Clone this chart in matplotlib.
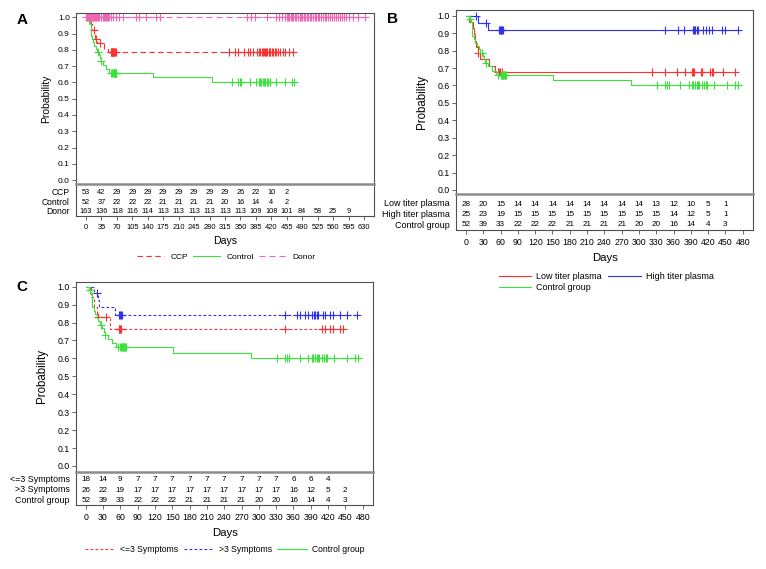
import numpy as np
import matplotlib
matplotlib.use("Agg")
import matplotlib.pyplot as plt

plt.rcParams['font.family'] = ['Liberation Sans', 'DejaVu Sans']

# ---------------- data ----------------
# control group, same patients in all three panels
ctrl_t = [0, 5, 8, 11, 14, 16, 19, 22, 25, 29, 31, 33, 38, 45, 52, 151, 286]
ctrl_s = [1.0, 0.981, 0.962, 0.885, 0.865, 0.846, 0.827, 0.808, 0.788, 0.768,
          0.749, 0.730, 0.709, 0.685, 0.661, 0.631, 0.601]
ctrl_cens = [7, 27, 34, 56, 60, 62, 63, 64, 65, 66, 67, 68, 69, 331, 345, 348, 352,
             372, 386, 392, 394, 397, 400, 403, 405, 410, 413, 416, 418, 431, 452, 467, 472]

# panel A
ccp_t = [0, 8, 11, 14, 19, 21, 26, 41, 50]
ccp_s = [1.0, 0.981, 0.962, 0.924, 0.904, 0.865, 0.845, 0.806, 0.785]
ccp_cens = [17, 22, 31, 56, 57, 58, 59, 60, 61, 62, 63, 64, 65, 67,
            323, 337, 345, 357, 366, 372, 379, 388, 392, 395, 398, 402, 404, 406, 409,
            411, 414, 416, 418, 421, 424, 428, 431, 435, 440, 446, 452, 460, 469]
donor_t = [0]
donor_s = [1.0]
donor_cens = [0, 2, 4, 6, 8, 11, 13, 15, 17, 19, 21, 23, 26, 28, 30, 33, 35, 38, 40,
              43, 45, 48, 50, 53, 57, 61, 68, 74, 83, 113, 119, 136, 159, 168,
              364, 373, 383, 410, 431, 438, 444, 451, 455, 458, 461, 464, 467, 470,
              474, 477, 481, 484, 487, 490, 494, 497, 501, 504, 508, 511, 515, 518,
              522, 526, 529, 533, 537, 541, 545, 549, 553, 557, 562, 566, 571, 576,
              581, 585, 590, 597, 606, 617, 633]

# panel B
low_t = [0, 6, 12, 14, 16, 18, 20, 24, 40, 50]
low_s = [1.0, 0.964, 0.929, 0.893, 0.857, 0.821, 0.786, 0.750, 0.709, 0.675]
low_cens = [21, 56, 58, 59, 63, 322, 345, 366, 380, 392, 394, 395, 407, 410,
            423, 426, 429, 446, 467]
high_t = [0, 21, 39]
high_s = [1.0, 0.96, 0.918]
high_cens = [18, 34, 57, 59, 60, 61, 62, 64, 345, 367, 378, 394, 396, 398, 400, 402,
             412, 416, 421, 426, 444, 449, 471]

# panel C
le3_t = [0, 10, 15, 19, 42]
le3_s = [1.0, 0.944, 0.889, 0.833, 0.764]
le3_cens = [22, 35, 57, 58, 59, 60, 62, 345, 409, 415, 423, 429, 440, 446]
gt3_t = [0, 15, 21, 23, 51]
gt3_s = [1.0, 0.962, 0.923, 0.885, 0.843]
gt3_cens = [19, 57, 59, 61, 63, 345, 366, 372, 380, 385, 392, 395, 397, 400, 403,
            411, 415, 423, 429, 440, 452, 470]

# numbers at risk
days_a = list(range(0, 631, 35))
ccp_risk = [53, 42, 29, 29, 29, 29, 29, 29, 29, 29, 26, 22, 10, 2]
ctrl_risk_a = [52, 37, 22, 22, 22, 21, 21, 21, 21, 20, 16, 14, 4, 2]
donor_risk = [163, 136, 118, 116, 114, 113, 113, 113, 113, 113, 113, 109, 108, 101, 84, 58, 25, 9]

days_b = list(range(0, 481, 30))
low_risk = [28, 20, 15, 14, 14, 14, 14, 14, 14, 14, 14, 13, 12, 10, 5, 1]
high_risk = [25, 23, 19, 15, 15, 15, 15, 15, 15, 15, 15, 15, 14, 12, 5, 1]
ctrl_risk = [52, 39, 33, 22, 22, 22, 21, 21, 21, 21, 20, 20, 16, 14, 4, 3]
le3_risk = [18, 14, 9, 7, 7, 7, 7, 7, 7, 7, 7, 7, 6, 6, 4]
gt3_risk = [26, 22, 19, 17, 17, 17, 17, 17, 17, 17, 17, 17, 16, 12, 5, 2]

RED = '#ff3030'
GREEN = '#3de03d'
BLUE = '#3030f0'
PINK = '#f066b4'
EDGE = '#505050'

W, H = 766, 569
fig = plt.figure(figsize=(W / 100, H / 100), dpi=100)


def rect(l, t, r, b):
    return [l / W, 1 - b / H, (r - l) / W, (b - t) / H]


def km(ax, t, s, cens, color, ls, label):
    tt = list(t) + [max(cens)]
    ss = list(s) + [s[-1]]
    line, = ax.step(tt, ss, where='post', color=color, linestyle=ls, lw=0.8, label=label)
    idx = np.searchsorted(t, cens, side='right') - 1
    ax.plot(cens, np.array(s)[idx], '+', color=color, ms=5.5, mew=0.8, ls='none')
    return line


def panel(main_px, tab_px, xlim, ylim, ticks, rows, ytick_fs, xtick_fs, num_fs, row_fs):
    ax = fig.add_axes(rect(*main_px))
    ax.set_xlim(xlim)
    ax.set_ylim(ylim)
    ax.set_xticks([])
    yt = np.round(np.arange(0, 1.01, 0.1), 1)
    ax.set_yticks(yt)
    ax.set_yticklabels([f'{v:.1f}' for v in yt])
    ax.tick_params(axis='y', length=3, width=0.6, color=EDGE, pad=1.5, labelsize=ytick_fs)
    for sp in ax.spines.values():
        sp.set_color(EDGE)
        sp.set_linewidth(0.8)
    ax.spines['bottom'].set_visible(False)

    axt = fig.add_axes(rect(*tab_px))
    axt.set_xlim(xlim)
    axt.set_ylim(tab_px[3], tab_px[1])
    axt.set_yticks([])
    axt.set_xticks(ticks)
    axt.set_xticklabels([str(d) for d in ticks])
    axt.tick_params(axis='x', length=3, width=0.6, color=EDGE, pad=3, labelsize=xtick_fs)
    for sp in axt.spines.values():
        sp.set_color(EDGE)
        sp.set_linewidth(0.8)
    axt.spines['top'].set_color('#8c8c8c')
    axt.spines['top'].set_linewidth(1.8)
    for label, counts, ypx in rows:
        axt.annotate(label, xy=(0, ypx), xycoords=('axes fraction', 'data'),
                     xytext=(-4.5, 0), textcoords='offset points',
                     ha='right', va='center', fontsize=row_fs)
        for d, n in zip(ticks, counts):
            axt.text(d, ypx, str(n), ha='center', va='center', fontsize=num_fs)
    return ax


# ---------------- panel A ----------------
axA = panel((76, 13.3, 374, 184.3), (76, 184.3, 374, 216), (-22.7, 652.7), (-0.026, 1.025),
            days_a, [('CCP', ccp_risk, 192.5), ('Control', ctrl_risk_a, 202.3),
                     ('Donor', donor_risk, 212)], 6, 5.4, 5.3, 6.2)
hA = [km(axA, ccp_t, ccp_s, ccp_cens, RED, (0, (5, 3)), 'CCP'),
      km(axA, ctrl_t, ctrl_s, ctrl_cens, GREEN, '-', 'Control'),
      km(axA, donor_t, donor_s, donor_cens, PINK, (0, (5.5, 3.5)), 'Donor')]
fig.legend(handles=hA, loc='center', bbox_to_anchor=(226 / W, 1 - 257 / H), ncol=3,
           frameon=False, fontsize=6, handlelength=3.3, handletextpad=0.7,
           columnspacing=0.6)

# ---------------- panel B ----------------
axB = panel((456, 10, 753.3, 194), (456, 194, 753.3, 230), (-17.35, 498.4), (-0.023, 1.033),
            days_b, [('Low titer plasma', low_risk, 204), ('High titer plasma', high_risk, 214.7),
                     ('Control group', ctrl_risk, 225)], 6.3, 6.3, 5.9, 6.5)
h_low = km(axB, low_t, low_s, low_cens, RED, '-', 'Low titer plasma')
h_high = km(axB, high_t, high_s, high_cens, BLUE, '-', 'High titer plasma')
h_ctrl = km(axB, ctrl_t, ctrl_s, ctrl_cens, GREEN, '-', 'Control group')
fig.legend(handles=[h_low, h_ctrl, h_high], loc='center', bbox_to_anchor=(606 / W, 1 - 282 / H),
           ncol=2, frameon=False, fontsize=6.5, handlelength=3.6, handletextpad=0.5,
           columnspacing=0.8, labelspacing=0.15)

# ---------------- panel C ----------------
axC = panel((76, 282, 373.3, 471.7), (76, 471.7, 373.3, 505), (-16.8, 498.4), (-0.032, 1.026),
            days_b, [('<=3 Symptoms', le3_risk, 479.3), ('>3 Symptoms', gt3_risk, 490),
                     ('Control group', ctrl_risk, 500.7)], 6.3, 6.3, 5.9, 6.4)
hC = [km(axC, le3_t, le3_s, le3_cens, RED, (0, (2.5, 2)), '<=3 Symptoms'),
      km(axC, gt3_t, gt3_s, gt3_cens, BLUE, (0, (2.5, 2)), '>3 Symptoms'),
      km(axC, ctrl_t, ctrl_s, ctrl_cens, GREEN, '-', 'Control group')]
fig.legend(handles=hC, loc='center', bbox_to_anchor=(225 / W, 1 - 550 / H), ncol=3,
           frameon=False, fontsize=6.2, handlelength=3.5, handletextpad=0.6,
           columnspacing=0.6)

# ---------------- labels ----------------
for x, y, s, fs in [(46, 98.8, 'Probability', 7.5), (422, 102, 'Probability', 8.3),
                    (42, 376, 'Probability', 8.3)]:
    fig.text(x / W, 1 - y / H, s, rotation=90, ha='center', va='center', fontsize=fs)
for x, y, fs in [(225, 241, 7.6), (605, 258.3, 8.2), (225, 532.7, 8.2)]:
    fig.text(x / W, 1 - y / H, 'Days', ha='center', va='center', fontsize=fs)
for x, y, s in [(22, 20, 'A'), (393, 19, 'B'), (22, 287, 'C')]:
    fig.text(x / W, 1 - y / H, s, ha='center', va='center', fontsize=11, fontweight='bold')

fig.savefig('out.png', dpi=100)
